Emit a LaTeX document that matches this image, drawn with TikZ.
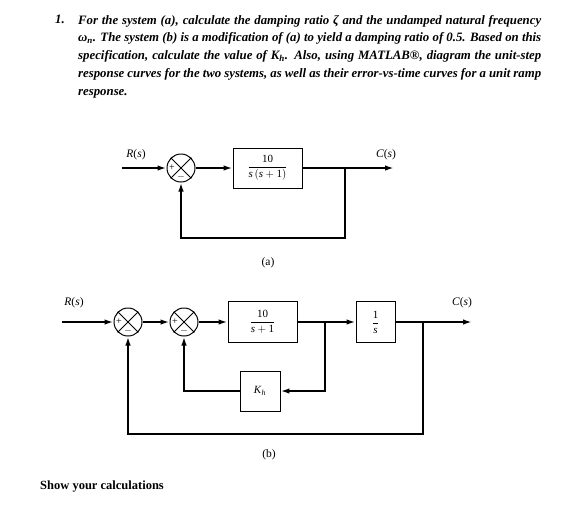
\documentclass[tikz,border=0pt]{standalone}
\usepackage{amsmath}
\usepackage{fontspec}
\setmainfont{Liberation Serif}
\usetikzlibrary{arrows.meta}

\begin{document}
\begin{tikzpicture}[x=1pt, y=-1pt,
	sig/.style={line width=1.8pt},
	blk/.style={draw, line width=0.9pt, minimum width=#1, minimum height=40pt, inner sep=0pt, font=\fontsize{11}{13}\selectfont},
	blk/.default=40pt,
	sumj/.style={draw, circle, line width=1pt, minimum size=28pt, inner sep=0pt},
	sgn/.style={inner sep=0pt, font=\fontsize{10}{10}\selectfont},
	lbl/.style={inner sep=0pt, font=\fontsize{11.5}{13}\selectfont},
	>={Latex[length=9pt,width=5.5pt]}]
	\useasboundingbox (0,0) rectangle (569,523);
	% question text
	\node[anchor=north west, inner sep=0pt, font=\fontsize{12.8}{17.75}\selectfont\bfseries\itshape] (num) at (55,15) {1.};
	\node[anchor=north west, inner sep=0pt, text width=463pt, align=justify, font=\fontsize{12.8}{17.75}\selectfont\bfseries\itshape] (question) at (78,15)
		{For the system (a), calculate the damping ratio ζ and the undamped natural frequency\linebreak
		ω\textsubscript{n}. The system (b) is a modification of (a) to yield a damping ratio of 0.5. Based on this\linebreak
		specification, calculate the value of K\textsubscript{h}. Also, using MATLAB®, diagram the unit-step\linebreak
		response curves for the two systems, as well as their error-vs-time curves for a unit ramp\linebreak
		response.};
	% summing junctions
	\foreach \n/\x/\y in {sa/181/168, sb/128/322, sc/184/322} {
		\node[sumj] (\n) at (\x,\y) {};
		\draw[line width=0.9pt] (\n.north west) -- (\n.south east) (\n.north east) -- (\n.south west);
		\node[sgn] at (\x-9,\y) {+};
		\node[sgn] at (\x,\y+8.5) {$-$};
	}
	% system (a)
	\node[blk=69pt] (ga) at (267.5,168) {$\dfrac{\text{10}}{\textit{s}\,(\textit{s}+\text{1})}$};
	\coordinate (ina) at (122,168);
	\coordinate (bra) at (345,168);
	\coordinate (outa) at (394,168);
	\coordinate (fba) at (345,238);
	\draw[sig,->] (ina) -- (sa.west);
	\draw[sig,->] (sa.east) -- (ga.west);
	\draw[sig,->] (ga.east) -- (outa);
	\draw[sig,->] (bra) -- (fba) -| (sa.south);
	\node[lbl] (ra) at (136,155) {\textit{R}(\textit{s})};
	\node[lbl] (ca) at (386,155) {\textit{C}(\textit{s})};
	\node[lbl] (capa) at (268,263) {(a)};
	% system (b)
	\node[blk=69pt, minimum height=41pt] (gb) at (262.5,322) {$\dfrac{\text{10}}{\textit{s}+\text{1}}$};
	\node[blk=39pt, minimum height=41pt] (ib) at (375.5,322) {$\dfrac{\text{1}}{\textit{s}}$};
	\node[blk] (kb) at (260,391) {\textit{K}\textsubscript{\textit{h}}};
	\coordinate (inb) at (62,322);
	\coordinate (br1) at (325,322);
	\coordinate (br2) at (423,322);
	\coordinate (outb) at (472,322);
	\coordinate (fbb) at (423,434);
	\draw[sig,->] (inb) -- (sb.west);
	\draw[sig,->] (sb.east) -- (sc.west);
	\draw[sig,->] (sc.east) -- (gb.west);
	\draw[sig,->] (gb.east) -- (ib.west);
	\draw[sig,->] (ib.east) -- (outb);
	\draw[sig,->] (br1) |- (kb.east);
	\draw[sig,->] (kb.west) -| (sc.south);
	\draw[sig,->] (br2) -- (fbb) -| (sb.south);
	\node[lbl] (rb) at (74,303) {\textit{R}(\textit{s})};
	\node[lbl] (cb) at (462,303) {\textit{C}(\textit{s})};
	\node[lbl] (capb) at (269,455) {(b)};
	% footer
	\node[anchor=west, inner sep=0pt, font=\fontsize{12.5}{14}\selectfont\bfseries] (note) at (40,486) {Show your calculations};
\end{tikzpicture}
\end{document}
